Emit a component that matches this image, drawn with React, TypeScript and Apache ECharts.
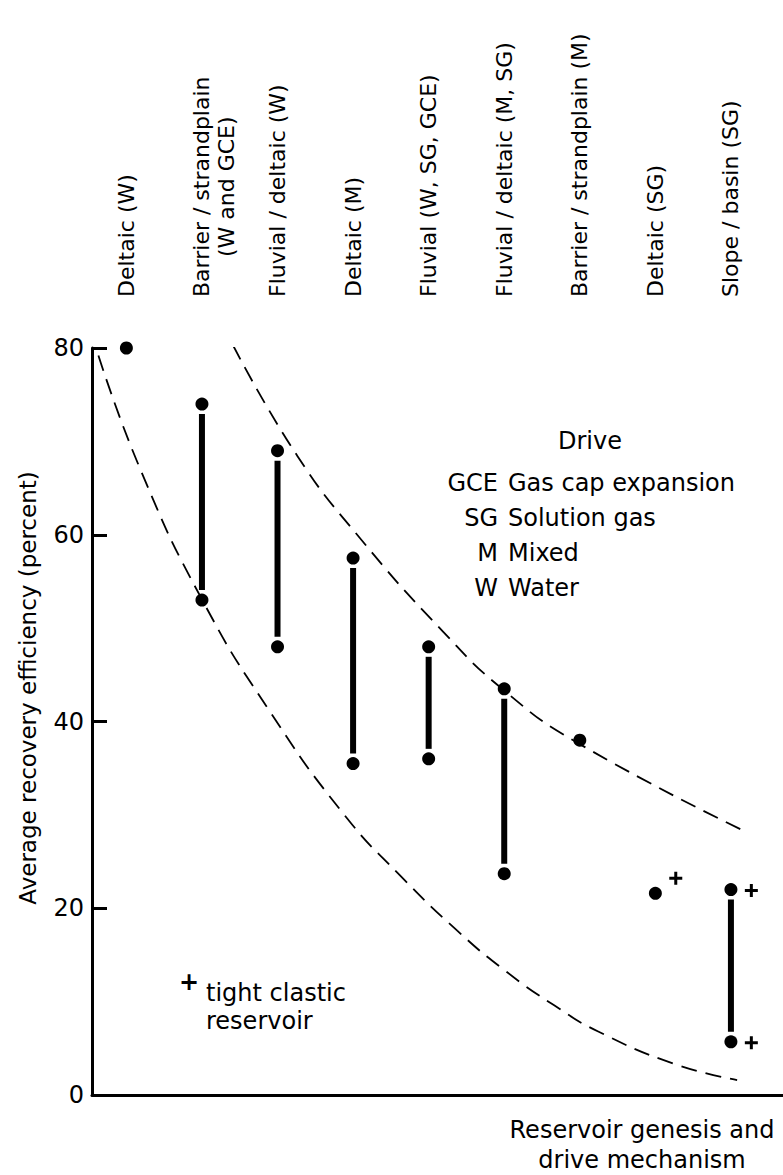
import React, { useEffect, useRef } from "react";
import * as echarts from "echarts";

// ---- data ----
const categories = [
  "Deltaic (W)",
  "Barrier / strandplain\n(W and GCE)",
  "Fluvial / deltaic (W)",
  "Deltaic (M)",
  "Fluvial (W, SG, GCE)",
  "Fluvial / deltaic (M, SG)",
  "Barrier / strandplain (M)",
  "Deltaic (SG)",
  "Slope / basin (SG)",
];

// vertical ranges (category index, low, high)
const rangeIdx = [1, 2, 3, 4, 5, 8];
const rangeHigh = [74, 69, 57.5, 48, 43.5, 22];
const rangeLow = [53, 48, 35.5, 36, 23.7, 5.7];

// single values
const singleIdx = [0, 6, 7];
const singleVal = [80, 38, 21.6];

// tight clastic reservoir markers (+)
const tightIdx = [7, 8, 8];
const tightVal = [23.2, 21.9, 5.6];

// dashed envelope curves (category-index position, percent)
const upperX = [1.411, 2.258, 3.095, 4.193, 4.987, 5.952, 8.221];
const upperY = [80.3, 68.5, 59.6, 49.6, 43.4, 37.8, 28.1];
const lowerX = [-0.37, 0.185, 1.005, 1.905, 2.884, 3.624, 4.378, 5.013, 5.661, 6.243, 7.262, 8.082];
const lowerY = [79.2, 67.0, 53.0, 41.0, 30.0, 23.5, 17.6, 13.3, 9.6, 6.8, 3.3, 1.6];

const driveCodes = ["GCE", "SG", "M", "W"];
const driveNames = ["Gas cap expansion", "Solution gas", "Mixed", "Water"];

const yTitle = "Average recovery efficiency (percent)";
const xTitle = "Reservoir genesis and\ndrive mechanism";
const driveTitle = "Drive";
const tightLabel = "tight clastic\nreservoir";

const FONT = "DejaVu Sans";
const PLUS = "path://M5,0H8V5H13V8H8V13H5V8H0V5H5Z";

export default function App() {
  const ref = useRef<HTMLDivElement | null>(null);

  useEffect(() => {
    if (!ref.current) return;
    const chart = echarts.init(ref.current, null, { renderer: "svg" });

    const dots: number[][] = [];
    rangeIdx.forEach((i, k) => {
      dots.push([i, rangeHigh[k]]);
      dots.push([i, rangeLow[k]]);
    });
    singleIdx.forEach((i, k) => dots.push([i, singleVal[k]]));

    const dash = { type: [16, 9] as any, width: 1.8, color: "#000", opacity: 1 };

    chart.setOption({
      animation: false,
      backgroundColor: "#fff",
      grid: { left: 92, right: 0, top: 348, bottom: 80, containLabel: false },
      xAxis: {
        type: "value",
        min: -0.455,
        max: 8.689,
        axisLine: { show: true, onZero: false, lineStyle: { color: "#000", width: 3 } },
        axisTick: { show: false },
        axisLabel: { show: false },
        splitLine: { show: false },
      },
      yAxis: {
        type: "value",
        min: 0,
        max: 80,
        interval: 20,
        axisLine: { show: true, onZero: false, lineStyle: { color: "#000", width: 3 } },
        axisTick: { show: true, inside: true, length: 15, lineStyle: { color: "#000", width: 3 } },
        axisLabel: { color: "#000", fontSize: 24, fontFamily: FONT, margin: 8 },
        splitLine: { show: false },
      },
      series: [
        {
          type: "line",
          data: upperX.map((x, k) => [x, upperY[k]]),
          smooth: 0.5,
          showSymbol: false,
          symbol: "none",
          lineStyle: dash,
          silent: true,
        },
        {
          type: "line",
          data: lowerX.map((x, k) => [x, lowerY[k]]),
          smooth: 0.5,
          showSymbol: false,
          symbol: "none",
          lineStyle: dash,
          silent: true,
        },
        {
          type: "custom",
          data: rangeIdx.map((i, k) => [i, rangeLow[k], rangeHigh[k]]),
          renderItem: (_params: any, api: any) => {
            const top = api.coord([api.value(0), api.value(2)]);
            const bot = api.coord([api.value(0), api.value(1)]);
            return {
              type: "line",
              shape: { x1: top[0], y1: top[1] + 10, x2: bot[0], y2: bot[1] - 10 },
              style: { stroke: "#000", lineWidth: 6 },
            };
          },
          silent: true,
        },
        {
          type: "scatter",
          data: dots,
          symbol: "circle",
          symbolSize: 13,
          itemStyle: { color: "#000", opacity: 1 },
          silent: true,
        },
        {
          type: "scatter",
          data: tightIdx.map((i, k) => [i + 0.27, tightVal[k]]),
          symbol: PLUS,
          symbolSize: 13,
          itemStyle: { color: "#000", opacity: 1 },
          silent: true,
        },
      ],
    });

    // category labels along the top, placed through the x scale
    const measure = (s: string, size: number) => {
      const c = document.createElement("canvas").getContext("2d")!;
      c.font = `${size}px "${FONT}"`;
      return c.measureText(s).width;
    };
    const LABEL_SIZE = 22;
    const baseY = 297;
    const topLabels: any[] = [];
    categories.forEach((name, i) => {
      const px = chart.convertToPixel({ xAxisIndex: 0 }, i) as number;
      const lines = name.split("\n");
      topLabels.push({
        type: "text",
        x: px,
        y: baseY,
        rotation: Math.PI / 2,
        style: {
          text: lines[0],
          fontSize: LABEL_SIZE,
          fontFamily: FONT,
          fill: "#000",
          align: "left",
          verticalAlign: "middle",
        },
      });
      if (lines[1]) {
        const w1 = measure(lines[0], LABEL_SIZE);
        topLabels.push({
          type: "text",
          x: px + 25,
          y: baseY - w1 / 2,
          rotation: Math.PI / 2,
          style: {
            text: lines[1],
            fontSize: LABEL_SIZE,
            fontFamily: FONT,
            fill: "#000",
            align: "center",
            verticalAlign: "middle",
          },
        });
      }
    });

    const driveRows: any[] = [];
    driveCodes.forEach((code, k) => {
      const y = 483 + k * 35;
      driveRows.push({
        type: "text",
        x: 498,
        y,
        style: { text: code, fontSize: 24, fontFamily: FONT, fill: "#000", align: "right", verticalAlign: "middle" },
      });
      driveRows.push({
        type: "text",
        x: 508,
        y,
        style: { text: driveNames[k], fontSize: 24, fontFamily: FONT, fill: "#000", align: "left", verticalAlign: "middle" },
      });
    });

    chart.setOption({
      graphic: [
        ...topLabels,
        {
          type: "text",
          x: 28,
          y: 688,
          rotation: Math.PI / 2,
          style: { text: yTitle, fontSize: 23, fontFamily: FONT, fill: "#000", align: "center", verticalAlign: "middle" },
        },
        {
          type: "text",
          x: 590,
          y: 441,
          style: { text: driveTitle, fontSize: 24, fontFamily: FONT, fill: "#000", align: "center", verticalAlign: "middle" },
        },
        ...driveRows,
        {
          type: "text",
          x: 189,
          y: 982,
          style: { text: "+", fontSize: 24, fontWeight: "bold", fontFamily: FONT, fill: "#000", align: "center", verticalAlign: "middle" },
        },
        {
          type: "text",
          x: 206,
          y: 1007,
          style: { text: tightLabel, fontSize: 24, lineHeight: 28, fontFamily: FONT, fill: "#000", align: "left", verticalAlign: "middle" },
        },
        {
          type: "text",
          x: 642,
          y: 1145,
          style: { text: xTitle, fontSize: 24, lineHeight: 30, fontFamily: FONT, fill: "#000", align: "center", verticalAlign: "middle" },
        },
      ],
    });

    return () => chart.dispose();
  }, []);

  return (
    <div
      ref={ref}
      style={{ position: "absolute", left: 0, top: 0, width: 783, height: 1175, background: "#fff" }}
    />
  );
}
